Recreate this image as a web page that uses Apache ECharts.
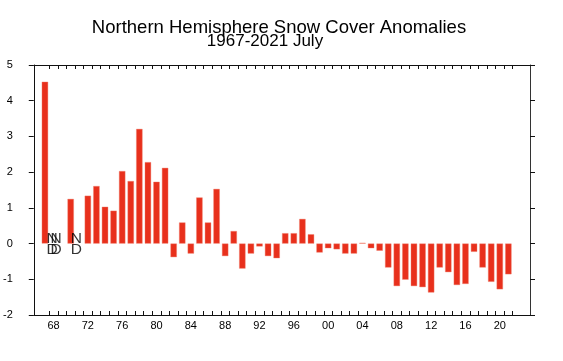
<!DOCTYPE html>
<html>
<head>
<meta charset="utf-8">
<script src="https://cdn.jsdelivr.net/npm/echarts@6/dist/echarts.min.js"></script>
<style>html,body{margin:0;padding:0;background:#fff;}#c{width:563px;height:361px;}</style>
</head>
<body>
<div id="c"></div>
<script>
var titleLine1 = 'Northern Hemisphere Snow Cover Anomalies';
var titleLine2 = '1967-2021 July';
var years = [];
for (var y = 1967; y <= 2021; y++) years.push(y);
var anomalies = [4.53, null, null, 1.25, null, 1.34, 1.61, 1.03, 0.92, 2.03,
  1.75, 3.21, 2.28, 1.73, 2.12, -0.38, 0.59, -0.28, 1.29, 0.59,
  1.53, -0.35, 0.35, -0.70, -0.28, -0.08, -0.35, -0.41, 0.29, 0.29,
  0.69, 0.26, -0.25, -0.13, -0.16, -0.28, -0.28, 0.02, -0.13, -0.20,
  -0.67, -1.19, -1.01, -1.19, -1.22, -1.37, -0.67, -0.80, -1.16, -1.13,
  -0.23, -0.67, -1.07, -1.28, -0.86];
var ndYears = [1968, 1969, 1971];
var ndOffsets = [-1.5, -6, -3];
var xLabelYears = [1968, 1972, 1976, 1980, 1984, 1988, 1992, 1996, 2000, 2004, 2008, 2012, 2016, 2020];

var tickPos = years.map(function (v) { return v + 0.5; });
var barData = years.map(function (v, i) { return [v, anomalies[i]]; });
var ndData = ndYears.map(function (v, i) {
  return { value: [v, 0], label: { offset: [ndOffsets[i], 1] } };
});

var chart = echarts.init(document.getElementById('c'), null, { renderer: 'canvas' });
var font = 'Liberation Sans, Arial, sans-serif';
var axisCol = '#111';
chart.setOption({
  animation: false,
  backgroundColor: '#fff',
  textStyle: { fontFamily: font },
  graphic: [
    { type: 'text', x: 279, y: 28, style: { text: titleLine1, font: '18.5px ' + font, fill: '#000', textAlign: 'center', textVerticalAlign: 'middle' } },
    { type: 'text', x: 265, y: 41.5, style: { text: titleLine2, font: '17px ' + font, fill: '#000', textAlign: 'center', textVerticalAlign: 'middle' } }
  ],
  grid: { left: 33, right: 33, top: 65, bottom: 46, containLabel: false },
  xAxis: [
    {
      type: 'value', position: 'bottom', min: 1965.7, max: 2023.52,
      axisLine: { show: true, onZero: false, lineStyle: { color: axisCol, width: 1 } },
      axisTick: { show: true, inside: true, length: 4, customValues: tickPos, lineStyle: { color: axisCol } },
      axisLabel: { show: true, customValues: xLabelYears, margin: 5, fontSize: 11, color: '#000', fontFamily: font,
        formatter: function (v) { var s = String(Math.round(v) % 100); return s.length < 2 ? '0' + s : s; } },
      splitLine: { show: false }
    },
    {
      type: 'value', position: 'top', min: 1965.7, max: 2023.52,
      axisLine: { show: true, onZero: false, lineStyle: { color: axisCol, width: 1 } },
      axisTick: { show: true, inside: true, length: 4, customValues: tickPos, lineStyle: { color: axisCol } },
      axisLabel: { show: false },
      splitLine: { show: false }
    }
  ],
  yAxis: [
    {
      type: 'value', position: 'left', min: -2, max: 5, interval: 1,
      axisLine: { show: true, onZero: false, lineStyle: { color: axisCol, width: 1 } },
      axisTick: { show: true, inside: false, length: 5, lineStyle: { color: axisCol } },
      axisLabel: { show: true, margin: 21, fontSize: 11, color: '#000', fontFamily: font },
      splitLine: { show: false }
    },
    {
      type: 'value', position: 'right', min: -2, max: 5, interval: 1,
      axisLine: { show: true, onZero: false, lineStyle: { color: '#333', width: 1 } },
      axisTick: { show: true, inside: false, length: 5, lineStyle: { color: axisCol } },
      axisLabel: { show: false },
      splitLine: { show: false }
    }
  ],
  series: [
    {
      type: 'bar', xAxisIndex: 0, yAxisIndex: 0, data: barData, barWidth: 6.3,
      itemStyle: { color: '#e8301c', borderColor: '#f08070', borderWidth: 0.4 }
    },
    {
      type: 'scatter', xAxisIndex: 0, yAxisIndex: 0, data: ndData, symbolSize: 0, silent: true,
      label: { show: true, position: 'inside', formatter: 'N\nD', fontSize: 15.5, lineHeight: 11, color: '#000', fontFamily: font }
    }
  ]
});
</script>
</body>
</html>
